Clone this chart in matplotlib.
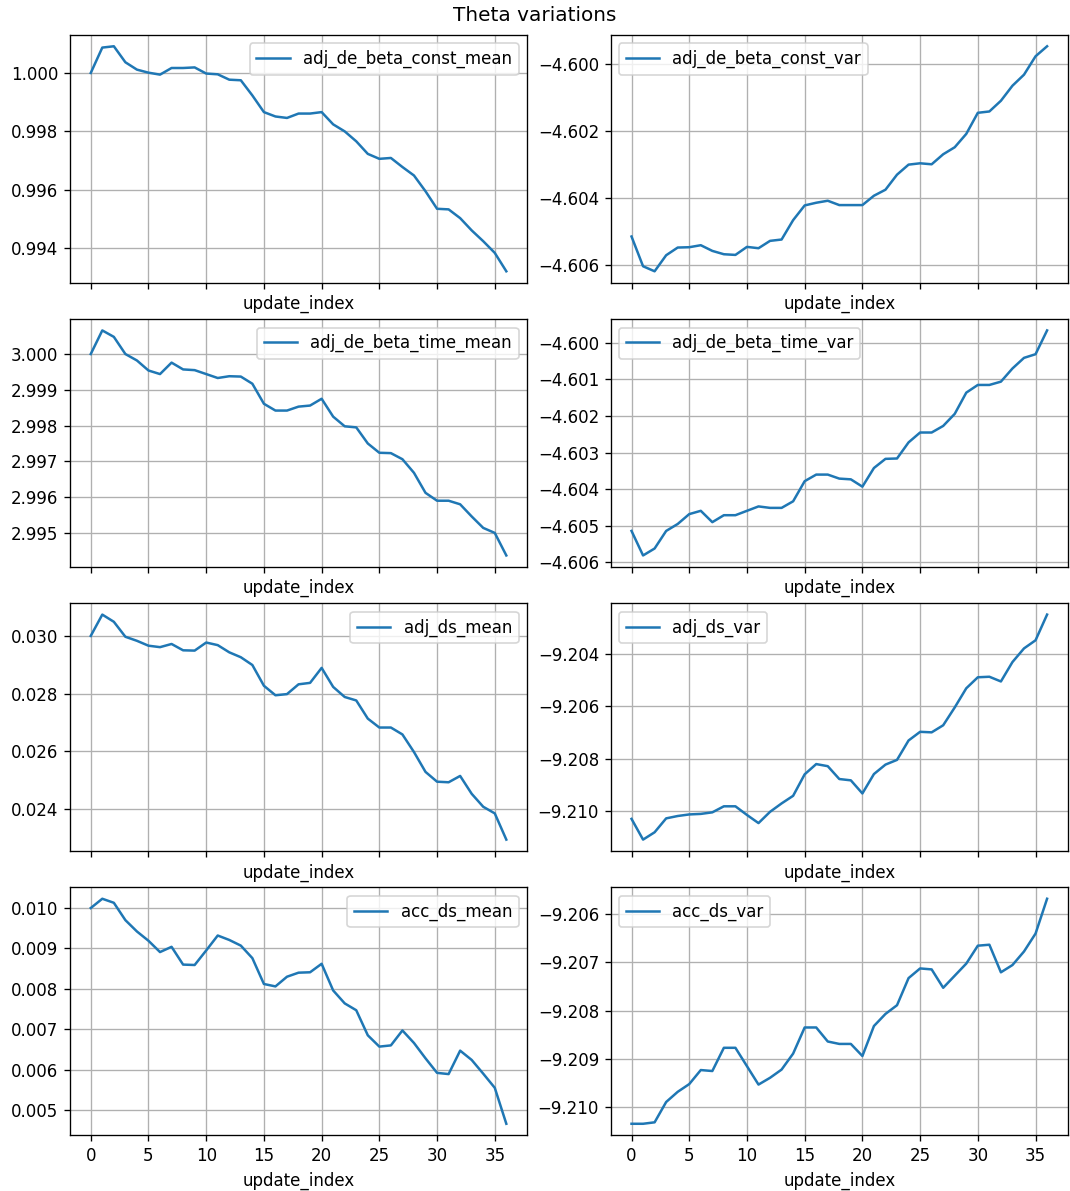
import numpy as np
import matplotlib
matplotlib.use("Agg")
import matplotlib.pyplot as plt

update_index = list(range(37))

adj_de_beta_const_mean = [
    1.00000, 1.000869, 1.000914, 1.000366, 1.000114, 1.00001, 0.999943, 1.00017,
    1.00017, 1.00019, 0.99998, 0.999954, 0.99977, 0.99975, 0.99923, 0.99866,
    0.99851, 0.99846, 0.99861, 0.99861, 0.99866, 0.99824, 0.99800, 0.99766,
    0.99723, 0.99706, 0.99709, 0.99678, 0.99649, 0.99595, 0.99535, 0.99533,
    0.99503, 0.99461, 0.99424, 0.99384, 0.99321,
]
adj_de_beta_const_var = [
    -4.60516, -4.60605, -4.60620, -4.60572, -4.60549, -4.60548, -4.60542, -4.60559,
    -4.60569, -4.60571, -4.60547, -4.60551, -4.60529, -4.60525, -4.60467, -4.60423,
    -4.60415, -4.60409, -4.60422, -4.60422, -4.60422, -4.60394, -4.60376, -4.60331,
    -4.60301, -4.60297, -4.60300, -4.60270, -4.60249, -4.60209, -4.60146, -4.60142,
    -4.60110, -4.60065, -4.60032, -4.59977, -4.59947,
]
adj_de_beta_time_mean = [
    3.00000, 3.00066, 3.00048, 3.00000, 2.99982, 2.99954, 2.99944, 2.99976,
    2.99957, 2.99955, 2.99944, 2.99933, 2.99938, 2.99937, 2.99917, 2.99861,
    2.99842, 2.99842, 2.99853, 2.99856, 2.99875, 2.99825, 2.99798, 2.99795,
    2.99750, 2.99724, 2.99723, 2.99706, 2.99668, 2.99612, 2.99590, 2.99590,
    2.99580, 2.99546, 2.99514, 2.99500, 2.99437,
]
adj_de_beta_time_var = [
    -4.60514, -4.60581, -4.60562, -4.60514, -4.60495, -4.60468, -4.60459, -4.60490,
    -4.60471, -4.60471, -4.60459, -4.60447, -4.60451, -4.60451, -4.60433, -4.60378,
    -4.60360, -4.60360, -4.60371, -4.60373, -4.60393, -4.60342, -4.60317, -4.60316,
    -4.60272, -4.60245, -4.60245, -4.60227, -4.60194, -4.60136, -4.60115, -4.60115,
    -4.60106, -4.60070, -4.60041, -4.60031, -4.59966,
]
adj_ds_mean = [
    0.03000, 0.03074, 0.03049, 0.02997, 0.02983, 0.02966, 0.02961, 0.02972,
    0.02950, 0.02949, 0.02977, 0.02968, 0.02943, 0.02926, 0.02899, 0.02827,
    0.02794, 0.02798, 0.02832, 0.02837, 0.02889, 0.02823, 0.02788, 0.02776,
    0.02713, 0.02682, 0.02682, 0.02658, 0.02597, 0.02528, 0.02494, 0.02492,
    0.02514, 0.02452, 0.02407, 0.02384, 0.02293,
]
adj_ds_var = [
    -9.21030, -9.21109, -9.21081, -9.21028, -9.21019, -9.21013, -9.21011, -9.21005,
    -9.20982, -9.20982, -9.21015, -9.21046, -9.21003, -9.20971, -9.20942, -9.20860,
    -9.20821, -9.20829, -9.20878, -9.20883, -9.20933, -9.20859, -9.20823, -9.20805,
    -9.20731, -9.20698, -9.20700, -9.20673, -9.20605, -9.20532, -9.20490, -9.20488,
    -9.20506, -9.20432, -9.20380, -9.20349, -9.20251,
]
acc_ds_mean = [
    0.01000, 0.01023, 0.01013, 0.00970, 0.00942, 0.00919, 0.00891, 0.00904,
    0.00860, 0.00859, 0.00895, 0.00932, 0.00921, 0.00907, 0.00876, 0.00812,
    0.00806, 0.00830, 0.00840, 0.00841, 0.00862, 0.00796, 0.00764, 0.00747,
    0.00685, 0.00657, 0.00660, 0.00697, 0.00666, 0.00628, 0.00592, 0.00589,
    0.00647, 0.00624, 0.00590, 0.00555, 0.00466,
]
acc_ds_var = [
    -9.21034, -9.21034, -9.21031, -9.20989, -9.20968, -9.20952, -9.20923, -9.20925,
    -9.20877, -9.20877, -9.20915, -9.20953, -9.20939, -9.20922, -9.20889, -9.20835,
    -9.20835, -9.20864, -9.20869, -9.20869, -9.20894, -9.20832, -9.20807, -9.20789,
    -9.20733, -9.20713, -9.20715, -9.20753, -9.20728, -9.20703, -9.20666, -9.20664,
    -9.20721, -9.20706, -9.20678, -9.20641, -9.20569,
]

series = [
    ("adj_de_beta_const_mean", adj_de_beta_const_mean),
    ("adj_de_beta_const_var", adj_de_beta_const_var),
    ("adj_de_beta_time_mean", adj_de_beta_time_mean),
    ("adj_de_beta_time_var", adj_de_beta_time_var),
    ("adj_ds_mean", adj_ds_mean),
    ("adj_ds_var", adj_ds_var),
    ("acc_ds_mean", acc_ds_mean),
    ("acc_ds_var", acc_ds_var),
]

DPI = 120
fig, axes = plt.subplots(4, 2, figsize=(1070 / DPI, 1191 / DPI), dpi=DPI, sharex=True)
fig.subplots_adjust(left=0.0654, right=0.998, top=0.9706, bottom=0.0470,
                    wspace=0.183, hspace=0.148)
fig.suptitle("Theta variations", fontsize=12, y=0.995)

for ax, (name, vals) in zip(axes.flat, series):
    ax.plot(update_index, vals, color="#1f77b4", label=name)
    ax.grid(True)
    ax.set_xlabel("update_index")
    ax.xaxis.set_tick_params(labelbottom=False)
    ax.ticklabel_format(axis="y", useOffset=False)
    ax.legend(loc="best")

for ax in axes[-1]:
    ax.xaxis.set_tick_params(labelbottom=True)
    ax.set_xticks(range(0, 36, 5))

fig.savefig("out.png", dpi=DPI)
